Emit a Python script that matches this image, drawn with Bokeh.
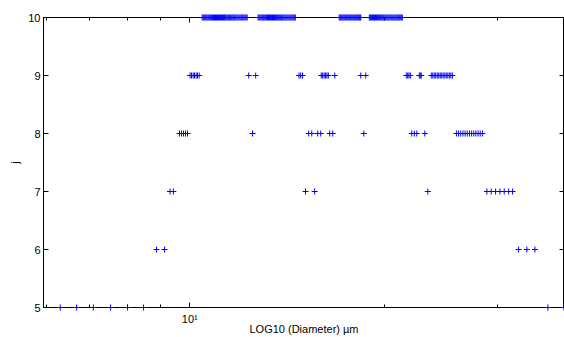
from bokeh.plotting import figure
from bokeh.models import Range1d, FixedTicker, LogAxis, LinearAxis, ColumnDataSource
from bokeh.embed import file_html
from bokeh.resources import INLINE

# Diameters (um) per level j
d5 = [6.30, 6.68, 7.09, 7.54, 8.01, 8.48, 35.86, 37.97]
d6 = [8.88, 9.14, 32.30, 33.27, 34.24]
d7 = [9.32, 9.43, 15.11, 15.61, 23.37,
      28.85, 29.30, 29.76, 30.22, 30.69, 31.18, 31.62]
d8 = [9.64, 9.71, 9.78, 9.85, 9.92, 12.51,
      15.28, 15.45, 15.78, 15.95, 16.47, 16.65, 18.60,
      22.07, 22.27, 22.47, 23.12,
      25.88, 26.08, 26.28, 26.49, 26.69, 26.90, 27.11, 27.32, 27.53,
      27.74, 27.96, 28.17, 28.39]
d9 = [10.01, 10.06, 10.12, 10.17, 10.23, 10.28, 10.34,
      12.34, 12.65,
      14.76, 14.85, 14.95,
      15.98, 16.06, 16.15, 16.23, 16.31, 16.39, 16.77,
      18.40, 18.73,
      21.64, 21.75, 21.85, 21.96,
      22.67, 22.75, 22.83,
      23.66, 23.79, 23.91, 24.04, 24.17, 24.30, 24.43, 24.56, 24.69,
      24.83, 24.96, 25.10, 25.23, 25.37, 25.51]
d10 = [10.45, 10.49, 10.53, 10.565, 10.60, 10.64, 10.68, 10.72, 10.76,
       10.80, 10.84, 10.88, 10.92, 10.96, 11.00, 11.04, 11.08, 11.12,
       11.16, 11.20, 11.24, 11.28, 11.32, 11.365, 11.41, 11.45, 11.49,
       11.53, 11.57, 11.615, 11.66, 11.70, 11.74, 11.785, 11.83, 11.875,
       11.92, 11.965, 12.01, 12.05, 12.09, 12.135, 12.18, 12.225, 12.27,
       12.76, 12.805, 12.85, 12.90, 12.95, 12.995, 13.04, 13.09, 13.14,
       13.19, 13.24, 13.285, 13.33, 13.38, 13.43, 13.48, 13.53, 13.58,
       13.63, 13.68, 13.73, 13.78, 13.83, 13.88, 13.93, 13.985, 14.04,
       14.09, 14.14, 14.195, 14.25, 14.30, 14.35, 14.405, 14.46, 14.515, 14.57,
       17.04, 17.10, 17.16, 17.22, 17.28, 17.345, 17.41, 17.47, 17.53,
       17.595, 17.66, 17.72, 17.78, 17.845, 17.91, 17.975, 18.04, 18.105,
       18.17, 18.235, 18.30, 18.35, 18.40,
       18.97, 19.04, 19.11, 19.18, 19.25, 19.32, 19.39, 19.465, 19.54,
       19.61, 19.68, 19.755, 19.83, 19.90, 19.97, 20.045, 20.12, 20.195,
       20.27, 20.345, 20.42, 20.495, 20.57, 20.645, 20.72, 20.795, 20.87,
       20.95, 21.03, 21.105, 21.18, 21.26, 21.34]

levels = [5, 6, 7, 8, 9, 10]
rows = [d5, d6, d7, d8, d9, d10]

x_major = [10]
x_minor = [6, 7, 8, 9, 20, 30]
x_label = "LOG10 (Diameter) µm"
y_label = "j"

xs, ys = [], []
for lev, row in zip(levels, rows):
    xs += row
    ys += [lev] * len(row)
src = ColumnDataSource(dict(x=xs, y=ys))

FONT = "Liberation Sans"

p = figure(width=564, height=337, x_axis_type="log",
           x_range=Range1d(5.935, 38.05), y_range=Range1d(5, 10),
           output_backend="svg", toolbar_location=None,
           min_border_left=43, min_border_right=0, min_border_top=17, min_border_bottom=0)
p.xgrid.visible = False
p.ygrid.visible = False
p.outline_line_color = "black"
p.outline_line_alpha = 1.0

r = p.scatter("x", "y", source=src, marker="cross", size=6, line_color="#0000ff",
              line_width=1)
r.level = "overlay"

def style(ax, labels=True):
    ax.axis_line_color = "black"
    ax.major_tick_line_color = "black"
    ax.minor_tick_line_color = "black"
    ax.major_tick_in = 5
    ax.major_tick_out = 0
    ax.minor_tick_in = 3
    ax.minor_tick_out = 0
    ax.major_label_text_font = FONT
    ax.major_label_text_color = "black"
    ax.axis_label_text_font = FONT
    ax.axis_label_text_font_style = "normal"
    ax.axis_label_text_color = "black"
    if not labels:
        ax.major_label_text_font_size = "1px"
        ax.major_label_text_alpha = 0
        ax.major_label_standoff = 0

xa = p.xaxis[0]
xa.ticker = FixedTicker(ticks=x_major, minor_ticks=x_minor)
style(xa)
xa.major_label_overrides = {10: "10¹"}
xa.major_label_text_font_size = "11px"
xa.major_label_standoff = 5
xa.axis_label = x_label
xa.axis_label_text_font_size = "11px"
xa.axis_label_standoff = -5

ya = p.yaxis[0]
ya.ticker = FixedTicker(ticks=levels, minor_ticks=[])
style(ya)
ya.major_label_text_font_size = "11px"
ya.major_label_standoff = 3
ya.axis_label = y_label
ya.axis_label_text_font_size = "11px"
ya.axis_label_standoff = 4

top = LogAxis(ticker=FixedTicker(ticks=x_major, minor_ticks=x_minor))
style(top, labels=False)
p.add_layout(top, "above")

right = LinearAxis(ticker=FixedTicker(ticks=levels, minor_ticks=[]))
style(right, labels=False)
p.add_layout(right, "right")

open("out.html", "w").write(file_html(p, INLINE))
